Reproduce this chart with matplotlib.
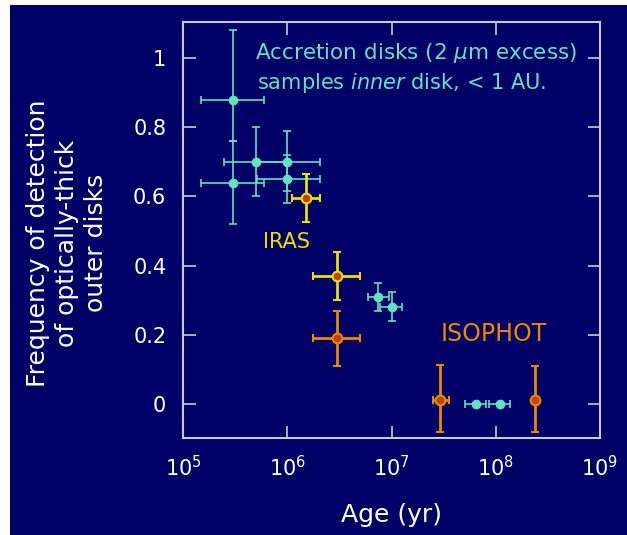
import matplotlib
matplotlib.use("Agg")
import matplotlib.pyplot as plt
from matplotlib.patches import Rectangle
import numpy as np

# Accretion disks (2 um excess)
acc_age = [3.05e5, 3.05e5, 5.0e5, 1.0e6, 1.0e6, 7.5e6, 1.0e7, 6.5e7, 1.09e8]
acc_age_lo = [1.5e5, 1.5e5, 2.5e5, 5.0e5, 5.1e5, 6.0e6, 7.8e6, 5.1e7, 8.6e7]
acc_age_hi = [6.0e5, 6.0e5, 1.0e6, 2.05e6, 2.05e6, 9.5e6, 1.26e7, 8.1e7, 1.38e8]
acc_freq = [0.88, 0.64, 0.70, 0.70, 0.65, 0.31, 0.28, 0.0, 0.0]
acc_freq_lo = [0.76, 0.52, 0.60, 0.615, 0.58, 0.27, 0.24, 0.0, 0.0]
acc_freq_hi = [1.08, 0.76, 0.80, 0.79, 0.72, 0.35, 0.325, 0.0, 0.0]

# IRAS
iras_age = [1.5e6, 3.0e6]
iras_age_lo = [1.12e6, 1.78e6]
iras_age_hi = [2.05e6, 5.0e6]
iras_freq = [0.596, 0.37]
iras_freq_lo = [0.526, 0.30]
iras_freq_hi = [0.665, 0.438]

# ISOPHOT
iso_age = [3.0e6, 2.95e7, 2.4e8]
iso_age_lo = [1.78e6, 2.5e7, 2.4e8]
iso_age_hi = [5.0e6, 3.55e7, 2.4e8]
iso_freq = [0.19, 0.012, 0.012]
iso_freq_lo = [0.11, -0.08, -0.08]
iso_freq_hi = [0.27, 0.113, 0.11]

navy = "#000066"
cyan = "#5fe3c0"
yellow = "#e8e000"
orange = "#e88a00"
red = "#c83c00"
grey = "#c8c8d8"


def errs(v, lo, hi):
    v = np.array(v)
    return [v - np.array(lo), np.array(hi) - v]


fig = plt.figure(figsize=(6.27, 5.35), dpi=100, facecolor="white")
# navy panel, leaving a thin white strip on the left and top
fig.patches.append(Rectangle((10 / 627, 0), 1, 1 - 5 / 535, transform=fig.transFigure,
                             facecolor=navy, edgecolor="none", zorder=-10))
ax = fig.add_axes([183 / 627, 1 - 438 / 535, 417 / 627, 416 / 535])
ax.set_facecolor(navy)

ax.errorbar(acc_age, acc_freq, xerr=errs(acc_age, acc_age_lo, acc_age_hi),
            yerr=errs(acc_freq, acc_freq_lo, acc_freq_hi), fmt="o", color=cyan,
            ms=6, elinewidth=1.2, capsize=3, capthick=1.2)
ax.errorbar(iras_age, iras_freq, xerr=errs(iras_age, iras_age_lo, iras_age_hi),
            yerr=errs(iras_freq, iras_freq_lo, iras_freq_hi), fmt="o", color=yellow,
            mfc=red, mec=yellow, mew=1.5, ms=7, elinewidth=2, capsize=3, capthick=2)
ax.errorbar(iso_age, iso_freq, xerr=errs(iso_age, iso_age_lo, iso_age_hi),
            yerr=errs(iso_freq, iso_freq_lo, iso_freq_hi), fmt="o", color=orange,
            mfc=red, mec=orange, mew=1.5, ms=7, elinewidth=2, capsize=3, capthick=2)

ax.set_xscale("log")
ax.set_xlim(1e5, 1e9)
ax.set_ylim(-0.098, 1.104)
ax.set_xticks([1e5, 1e6, 1e7, 1e8, 1e9])
ax.set_xticklabels([r"$10^{5}$", r"$10^{6}$", r"$10^{7}$", r"$10^{8}$", r"$10^{9}$"])
ax.set_yticks([0, 0.2, 0.4, 0.6, 0.8, 1.0])
ax.set_yticklabels(["0", "0.2", "0.4", "0.6", "0.8", "1"])
ax.minorticks_off()
ax.tick_params(direction="in", length=9, width=1.2, color=grey, labelcolor="white",
               labelsize=15, top=True, right=True, pad=12)
for s in ax.spines.values():
    s.set_color(grey)
    s.set_linewidth(1.5)

ax.set_xlabel("Age (yr)", color="white", fontsize=18, labelpad=17)
ax.set_ylabel("Frequency of detection\nof optically-thick\nouter disks", color="white",
              fontsize=18, linespacing=1.25, multialignment="center")
ax.yaxis.set_label_coords(-0.18, 0.469)

ax.text(0.559, 0.925, r"Accretion disks (2 $\mu$m excess)", transform=ax.transAxes,
        color=cyan, fontsize=15.5, ha="center", va="center")
ax.text(0.523, 0.853, "samples $\\it{inner}$ disk, < 1 AU.", transform=ax.transAxes,
        color=cyan, fontsize=15, ha="center", va="center")
ax.text(0.249, 0.471, "IRAS", transform=ax.transAxes, color=yellow, fontsize=15,
        ha="center", va="center")
ax.text(0.746, 0.25, "ISOPHOT", transform=ax.transAxes, color=orange, fontsize=17,
        ha="center", va="center")

fig.savefig("out.png", dpi=100, facecolor=fig.get_facecolor())
